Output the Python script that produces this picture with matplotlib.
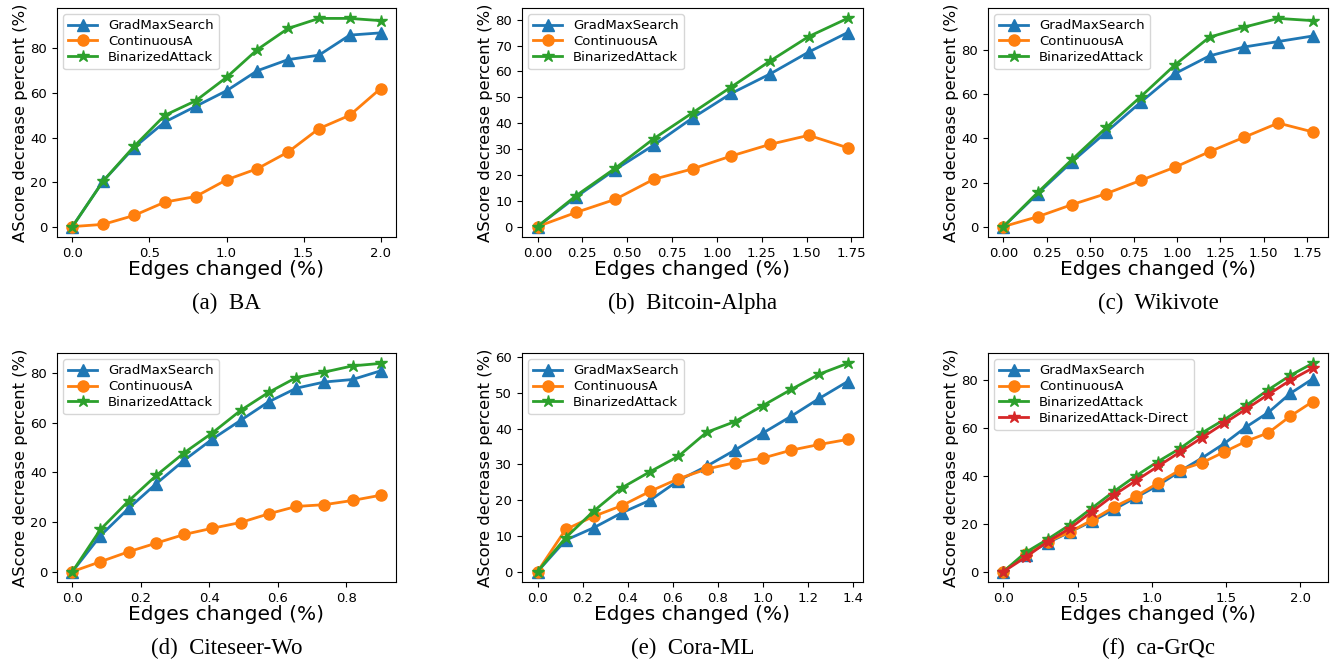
import matplotlib
matplotlib.use("Agg")
import matplotlib.pyplot as plt
import numpy as np

# ── data ────────────────────────────────────────────────
ba_x    = [0.0, 0.2, 0.4, 0.6, 0.8, 1.0, 1.2, 1.4, 1.6, 1.8, 2.0]
ba_grad = [0, 20.5, 35.5, 47, 54, 61, 70, 75, 77, 86, 87]
ba_cont = [0, 1, 5, 11, 13.5, 21, 26, 33.5, 44, 50, 62]
ba_bin  = [0, 20.5, 36, 50, 56.5, 67, 79.5, 89, 93.5, 93.5, 92.5]

btc_x    = [0.0, 0.216, 0.432, 0.648, 0.864, 1.08, 1.296, 1.512, 1.728]
btc_grad = [0, 11.5, 22, 31.5, 42, 51.5, 59, 67.5, 75]
btc_cont = [0, 5.5, 10.5, 18.3, 22.3, 27.3, 31.8, 35.3, 30.5]
btc_bin  = [0, 12, 22.5, 34, 44, 54, 64, 73.5, 80.5]

wiki_x    = [0.0, 0.198, 0.396, 0.594, 0.792, 0.99, 1.188, 1.386, 1.584, 1.782]
wiki_grad = [0, 15, 29.5, 43, 56.5, 69.5, 77.5, 81.5, 84, 86.5]
wiki_cont = [0, 4.5, 10, 15, 21, 27, 34, 40.5, 47, 43]
wiki_bin  = [0, 15.5, 30.5, 45, 59, 73.5, 86, 90.5, 94.5, 93.5]

cite_x    = [0.0, 0.082, 0.164, 0.245, 0.327, 0.409, 0.491, 0.573, 0.654,
             0.736, 0.818, 0.9]
cite_grad = [0, 14.5, 25.5, 35.5, 45, 53.5, 61, 68.5, 74, 76.5, 77.5, 81]
cite_cont = [0, 4, 8, 11.5, 15, 17.5, 19.8, 23.3, 26.3, 27, 28.7, 30.8]
cite_bin  = [0, 17, 28.5, 38.8, 48, 56, 65, 72.3, 78.3, 80.5, 83, 84]

cora_x    = [0.0, 0.125, 0.25, 0.375, 0.5, 0.625, 0.75, 0.875, 1.0, 1.125,
             1.25, 1.375]
cora_grad = [0, 8.8, 12.3, 16.5, 20, 25.5, 29.5, 34, 38.8, 43.5, 48.5, 53.2]
cora_cont = [0, 11.8, 15.5, 18.5, 22.5, 26, 28.7, 30.5, 31.8, 34, 35.6, 37]
cora_bin  = [0, 9.5, 17, 23.5, 28, 32.3, 39, 42, 46.5, 51, 55.3, 58.3]

grqc_x    = [0.0, 0.149, 0.297, 0.446, 0.595, 0.744, 0.892, 1.041, 1.19,
             1.338, 1.487, 1.636, 1.784, 1.933, 2.082]
grqc_grad = [0, 7, 12, 16.5, 21, 26, 31, 36, 42, 47.5, 53.5, 60.5, 66.5,
             74.5, 80.5]
grqc_cont = [0, 7.5, 12.5, 16.5, 21.5, 27, 31.5, 37, 42.5, 45.5, 50, 54.5,
             58, 65, 71]
grqc_bin  = [0, 8, 13.5, 19.5, 26.5, 33.5, 40, 46, 51.5, 58, 63.5, 69.5,
             76, 82, 87]
grqc_dir  = [0, 6, 12.5, 18, 25, 32, 38, 44, 50, 56, 62, 68, 74, 80, 85]

captions = ["(a)  BA", "(b)  Bitcoin-Alpha", "(c)  Wikivote",
            "(d)  Citeseer-Wo", "(e)  Cora-ML", "(f)  ca-GrQc"]

panels = [
    (ba_x,   [ba_grad, ba_cont, ba_bin]),
    (btc_x,  [btc_grad, btc_cont, btc_bin]),
    (wiki_x, [wiki_grad, wiki_cont, wiki_bin]),
    (cite_x, [cite_grad, cite_cont, cite_bin]),
    (cora_x, [cora_grad, cora_cont, cora_bin]),
    (grqc_x, [grqc_grad, grqc_cont, grqc_bin, grqc_dir]),
]

NAMES   = ["GradMaxSearch", "ContinuousA", "BinarizedAttack",
           "BinarizedAttack-Direct"]
COLORS  = ["C0", "C1", "C2", "C3"]
MARKERS = ["^", "o", "*", "*"]

W, H = 1332, 661
fig = plt.figure(figsize=(W / 100, H / 100), dpi=100)

# axes boxes in pixels: left, top, right, bottom
boxes = [(57, 8, 396, 237), (522, 8, 863, 237), (988, 8, 1328, 237),
         (57, 353, 396, 582), (522, 353, 863, 582), (988, 353, 1328, 582)]
xticks = [np.arange(0, 2.01, 0.5), np.arange(0, 1.76, 0.25),
          np.arange(0, 1.76, 0.25), np.arange(0, 0.81, 0.2),
          np.arange(0, 1.41, 0.2), np.arange(0, 2.01, 0.5)]
xfmt = ["%.1f", "%.2f", "%.2f", "%.1f", "%.1f", "%.1f"]
ytick_step = [20, 10, 20, 20, 10, 20]

for i, ((x, series), (l, t, r, b)) in enumerate(zip(panels, boxes)):
    ax = fig.add_axes([l / W, 1 - b / H, (r - l) / W, (b - t) / H])
    for j, y in enumerate(series):
        ms = 9 if MARKERS[j] == "*" else 8
        ax.plot(x, y, color=COLORS[j], marker=MARKERS[j], lw=2, ms=ms,
                label=NAMES[j])
    ax.set_xticks(xticks[i])
    ax.set_xticklabels([xfmt[i] % v for v in xticks[i]])
    ax.yaxis.set_major_locator(plt.MultipleLocator(ytick_step[i]))
    ax.tick_params(labelsize=9.5)
    ax.set_xlabel("Edges changed (%)", fontsize=14.5, labelpad=0)
    ax.set_ylabel("AScore decrease percent (%)", fontsize=11.8, labelpad=2)
    ax.legend(loc="upper left", fontsize=9.5, handlelength=2.2,
              borderaxespad=0.45, labelspacing=0.22)
    cx = (l + r) / 2 / W
    cy = 1 - (b + 66) / H
    fig.text(cx, cy, captions[i], ha="center", va="center",
             fontsize=16.5, family="Liberation Serif")

fig.savefig("out.png", dpi=100)
